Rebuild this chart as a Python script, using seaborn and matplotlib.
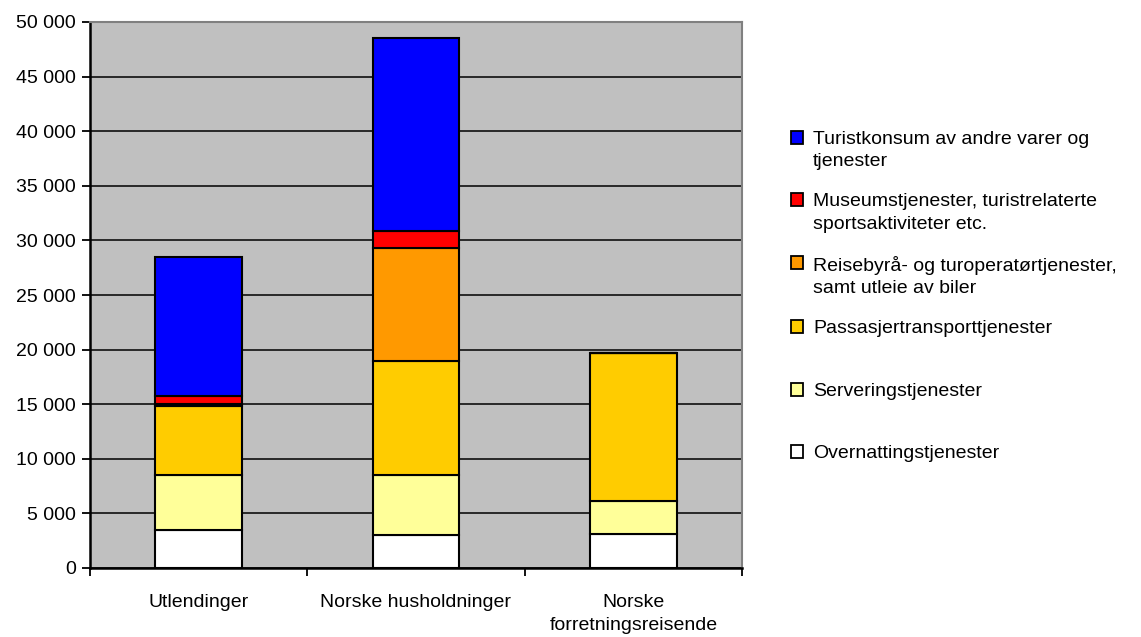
import numpy as np
import pandas as pd
import matplotlib
matplotlib.use("Agg")
import matplotlib.pyplot as plt
import seaborn as sns
from matplotlib.patches import Patch
from matplotlib.ticker import FuncFormatter, FixedLocator

groups = ["Utlendinger", "Norske husholdninger", "Norske\nforretningsreisende"]

# stacked from bottom to top
overnatting = [3450, 3050, 3150]
servering = [5100, 5500, 3000]
passasjer = [6300, 10400, 13500]
reisebyraa = [200, 10350, 0]
museum = [700, 1600, 0]
turistkonsum = [12700, 17650, 0]

series_names = [
    "Overnattingstjenester",
    "Serveringstjenester",
    "Passasjertransporttjenester",
    "Reisebyrå- og turoperatørtjenester,\nsamt utleie av biler",
    "Museumstjenester, turistrelaterte\nsportsaktiviteter etc.",
    "Turistkonsum av andre varer og\ntjenester",
]
series_values = [overnatting, servering, passasjer, reisebyraa, museum, turistkonsum]
colors = ["#FFFFFF", "#FFFF99", "#FFCC00", "#FF9900", "#FF0000", "#0000FF"]

sns.set_style("white")
plt.rcParams["font.family"] = ["Liberation Sans", "DejaVu Sans"]
plt.rcParams["text.color"] = "black"
plt.rcParams["xtick.color"] = "black"
plt.rcParams["ytick.color"] = "black"

fig = plt.figure(figsize=(11.41, 6.37), dpi=100)
ax = fig.add_axes([90 / 1141, 1 - 568 / 637, (742 - 90) / 1141, (568 - 22) / 637])
ax.set_facecolor("#C0C0C0")

bottom = np.zeros(len(groups))
for name, vals, col in zip(series_names, series_values, colors):
    df = pd.DataFrame({"gruppe": groups, "verdi": vals})
    sns.barplot(data=df, x="gruppe", y="verdi", color=col, bottom=bottom,
                saturation=1, width=0.4, edgecolor="black", linewidth=1.5,
                ax=ax, zorder=3)
    bottom = bottom + np.array(vals)

ax.set_xlim(-0.5, 2.5)
ax.set_ylim(0, 50000)
ax.set_yticks(np.arange(0, 50001, 5000))
ax.yaxis.set_major_formatter(FuncFormatter(lambda v, p: f"{int(v):,}".replace(",", " ")))
ax.yaxis.grid(True, color="black", linewidth=1.1, zorder=1)
ax.set_axisbelow(True)
ax.set_xlabel("")
ax.set_ylabel("")

ax.xaxis.set_minor_locator(FixedLocator([-0.5, 0.5, 1.5, 2.5]))
ax.tick_params(axis="x", which="major", bottom=True, length=0, pad=19,
               labelsize=14, labelcolor="black")
ax.tick_params(axis="x", which="minor", bottom=True, length=6, width=1.3,
               color="black", direction="out")
ax.tick_params(axis="y", left=True, length=6, width=1.3, color="black",
               direction="out", labelsize=14, labelcolor="black", pad=4)
for t in ax.get_xticklabels():
    t.set_linespacing(1.4)

for s in ["left", "bottom"]:
    ax.spines[s].set_color("black")
    ax.spines[s].set_linewidth(1.8)
for s in ["top", "right"]:
    ax.spines[s].set_color("#808080")
    ax.spines[s].set_linewidth(1.5)

handles = [Patch(facecolor=c, edgecolor="black", linewidth=1.3) for c in colors]
labels = list(series_names)
# single-line entries get a blank second line so all slots are equal
labels = [l if "\n" in l else l + "\n " for l in labels]
leg = fig.legend(handles[::-1], labels[::-1], loc="upper left",
                 bbox_to_anchor=(783 / 1141, 1 - 123 / 637), frameon=False,
                 fontsize=14, handlelength=0.65, handleheight=0.65,
                 handletextpad=0.5, labelspacing=1.2, borderaxespad=0)
for t in leg.get_texts():
    t.set_linespacing(1.4)
    t.set_color("black")
for col in leg._legend_handle_box.get_children():
    for hp in col.get_children():
        hp.align = "top"

fig.savefig("out.png", dpi=100, facecolor="white")
